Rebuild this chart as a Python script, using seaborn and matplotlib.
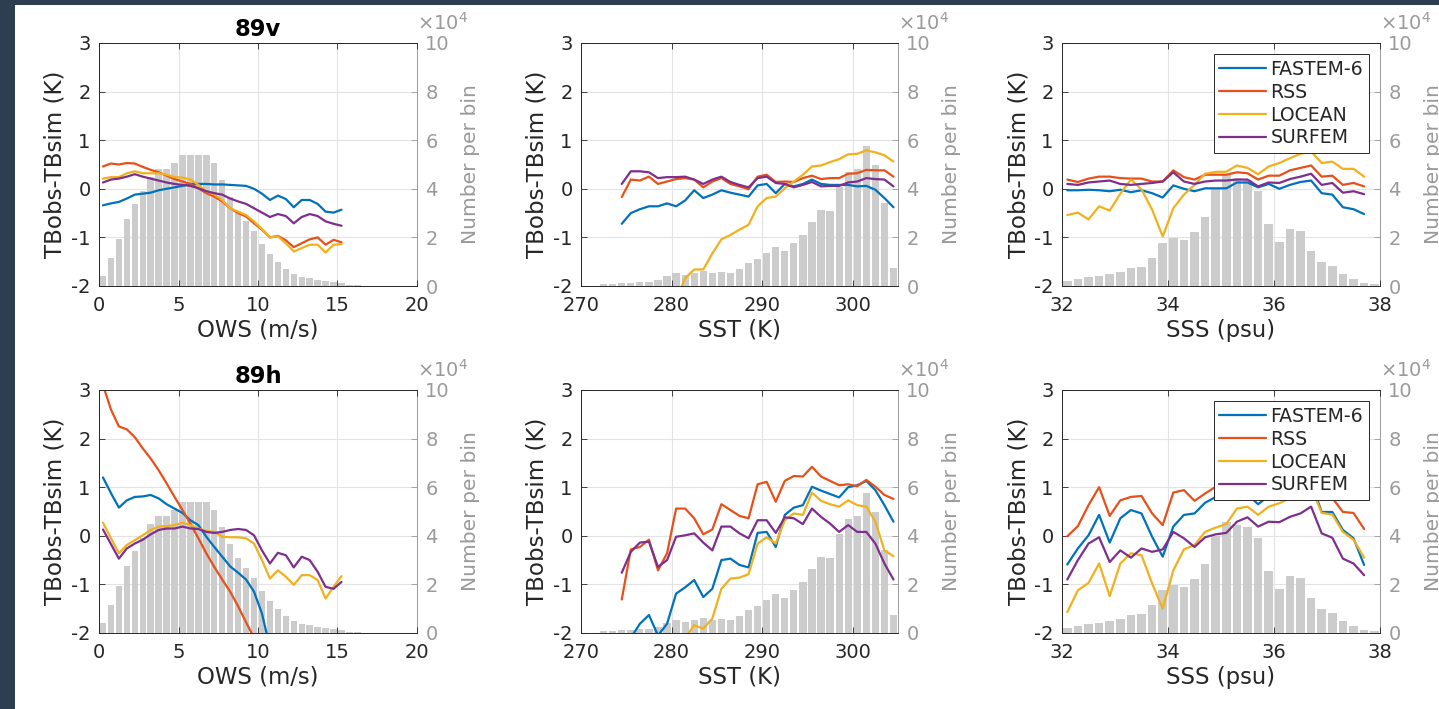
import numpy as np
import pandas as pd
import matplotlib
matplotlib.use("Agg")
import matplotlib.pyplot as plt
from matplotlib.patches import Rectangle
import seaborn as sns

# %% данные
models = ["FASTEM-6", "RSS", "LOCEAN", "SURFEM"]
colors = ["#0072BD", "#E8501A", "#F2B01E", "#7E2F8E"]

# центры бинов (гистограммы) и точки кривых
ows_hist_x = np.arange(0.25, 17.0, 0.5)
ows_hist = [4300, 11500, 19400, 27700, 33900, 39000, 44700, 48000, 48200, 50600,
            54000, 54000, 54000, 54000, 50600, 43500, 36500, 31000, 26700, 22500,
            17300, 13200, 10000, 6800, 5000, 3900, 3300, 2600, 2100, 1500,
            1100, 600, 300, 100]
sst_hist_x = np.arange(272.5, 305.0, 1.0)
sst_hist = [700, 700, 1100, 1100, 1800, 1800, 2500, 4100, 5200, 4500,
            5500, 6300, 5500, 5800, 5500, 6900, 9600, 11000, 13700, 16200,
            14600, 17900, 21000, 26200, 31300, 31000, 40900, 47100, 48100, 57700,
            49900, 34300, 7600]
sss_hist_x = np.round(np.arange(32.1, 38.0, 0.2), 2)
sss_hist = [2100, 2700, 3600, 4000, 5100, 5800, 7300, 8000, 11700, 17600,
            19600, 19100, 22400, 28200, 39800, 45500, 44400, 43700, 38900, 25500,
            18300, 23500, 22800, 14600, 10000, 8400, 4800, 3000, 1100, 700]

ows_x = np.arange(0.25, 15.3, 0.5)
sst_x = np.arange(274.5, 305.0, 1.0)
sss_x = np.round(np.arange(32.1, 37.8, 0.2), 2)

# 89v
ows_89v = {
    "FASTEM-6": [-0.34, -0.30, -0.27, -0.20, -0.12, -0.10, -0.08, -0.03, 0.00, 0.03, 0.06, 0.10, 0.10, 0.10, 0.09, 0.09,
                 0.08, 0.07, 0.06, 0.00, -0.10, -0.23, -0.14, -0.21, -0.38, -0.23, -0.23, -0.31, -0.47, -0.49, -0.43],
    "RSS": [0.46, 0.52, 0.50, 0.53, 0.52, 0.45, 0.39, 0.34, 0.27, 0.20, 0.15, 0.10, 0.01, -0.09, -0.16, -0.26,
            -0.40, -0.50, -0.57, -0.71, -0.84, -1.00, -0.97, -1.06, -1.20, -1.12, -1.04, -1.00, -1.15, -1.05, -1.10],
    "LOCEAN": [0.21, 0.24, 0.24, 0.32, 0.36, 0.32, 0.32, 0.32, 0.29, 0.24, 0.23, 0.19, 0.08, -0.05, -0.12, -0.23,
               -0.40, -0.47, -0.54, -0.67, -0.83, -1.00, -0.98, -1.12, -1.29, -1.22, -1.15, -1.15, -1.31, -1.15, -1.14],
    "SURFEM": [0.13, 0.19, 0.21, 0.25, 0.30, 0.25, 0.21, 0.17, 0.13, 0.10, 0.08, 0.06, 0.01, -0.05, -0.09, -0.12,
               -0.20, -0.26, -0.31, -0.40, -0.49, -0.58, -0.52, -0.56, -0.71, -0.58, -0.52, -0.56, -0.67, -0.72, -0.76],
}
sst_89v = {
    "FASTEM-6": [-0.72, -0.50, -0.42, -0.36, -0.36, -0.30, -0.36, -0.24, -0.03, -0.19, -0.12, -0.03, -0.08, -0.12, -0.16, 0.07,
                 0.10, -0.09, 0.10, 0.05, 0.10, 0.19, 0.10, 0.08, 0.08, 0.08, 0.05, 0.06, -0.02, -0.19, -0.38],
    "RSS": [-0.17, 0.19, 0.17, 0.25, 0.10, 0.15, 0.20, 0.22, 0.19, 0.03, 0.15, 0.22, 0.10, 0.05, -0.01, 0.25,
            0.29, 0.14, 0.15, 0.14, 0.22, 0.27, 0.20, 0.22, 0.22, 0.31, 0.32, 0.39, 0.38, 0.38, 0.25],
    "LOCEAN": [-2.9, -2.8, -2.7, -2.6, -2.5, -2.4, -2.27, -1.84, -1.66, -1.66, -1.33, -1.04, -0.95, -0.84, -0.74, -0.36,
               -0.19, -0.16, 0.01, 0.15, 0.29, 0.46, 0.48, 0.55, 0.61, 0.71, 0.72, 0.79, 0.75, 0.69, 0.56],
    "SURFEM": [0.10, 0.36, 0.36, 0.34, 0.22, 0.24, 0.24, 0.25, 0.19, 0.10, 0.19, 0.25, 0.14, 0.08, 0.03, 0.22,
               0.25, 0.12, 0.10, 0.03, 0.08, 0.14, 0.05, 0.06, 0.06, 0.13, 0.15, 0.22, 0.20, 0.19, 0.05],
}
sss_89v = {
    "FASTEM-6": [-0.03, -0.03, -0.02, -0.03, -0.05, -0.02, -0.07, -0.03, -0.09, -0.18, 0.07, 0.00, -0.05, 0.01, 0.01,
                 0.01, 0.13, 0.13, 0.03, 0.10, 0.00, 0.08, 0.14, 0.17, -0.09, -0.12, -0.38, -0.42, -0.52],
    "RSS": [0.19, 0.14, 0.21, 0.25, 0.25, 0.22, 0.21, 0.21, 0.15, 0.15, 0.38, 0.24, 0.19, 0.29, 0.29,
            0.29, 0.34, 0.32, 0.19, 0.27, 0.27, 0.38, 0.43, 0.48, 0.25, 0.27, 0.08, 0.12, 0.05],
    "LOCEAN": [-0.54, -0.49, -0.63, -0.36, -0.45, -0.10, 0.19, -0.01, -0.43, -0.98, -0.40, -0.12, 0.08, 0.31, 0.35,
               0.35, 0.48, 0.43, 0.30, 0.46, 0.53, 0.63, 0.72, 0.77, 0.53, 0.56, 0.41, 0.41, 0.25],
    "SURFEM": [0.10, 0.08, 0.13, 0.15, 0.17, 0.10, 0.08, 0.10, 0.12, 0.15, 0.34, 0.15, 0.10, 0.15, 0.17,
               0.17, 0.19, 0.19, 0.05, 0.13, 0.12, 0.20, 0.25, 0.31, 0.08, 0.12, -0.08, -0.05, -0.11],
}

# 89h
ows_89h = {
    "FASTEM-6": [1.20, 0.88, 0.58, 0.73, 0.80, 0.81, 0.84, 0.77, 0.65, 0.56, 0.47, 0.32, 0.22, -0.02, -0.23, -0.43,
                 -0.63, -0.76, -0.90, -1.15, -1.60, -2.30],
    "RSS": [3.10, 2.60, 2.25, 2.19, 2.03, 1.80, 1.59, 1.35, 1.08, 0.80, 0.53, 0.25, -0.05, -0.36, -0.64, -0.90,
            -1.15, -1.45, -1.78, -2.10, -2.40],
    "LOCEAN": [0.27, -0.05, -0.36, -0.19, -0.09, 0.01, 0.12, 0.19, 0.20, 0.22, 0.27, 0.22, 0.15, 0.10, 0.08, -0.02,
               -0.03, -0.03, -0.05, -0.16, -0.50, -0.88, -0.71, -0.84, -1.01, -0.81, -0.81, -0.91, -1.29, -1.05, -0.83],
    "SURFEM": [0.13, -0.17, -0.47, -0.26, -0.16, -0.08, 0.03, 0.12, 0.15, 0.15, 0.19, 0.15, 0.14, 0.08, 0.06, 0.08,
               0.12, 0.14, 0.12, 0.01, -0.30, -0.57, -0.35, -0.40, -0.65, -0.43, -0.50, -0.74, -1.05, -1.09, -0.95],
}
sst_89h = {
    "FASTEM-6": [-2.40, -2.10, -1.81, -1.63, -2.05, -1.81, -1.19, -1.06, -0.91, -1.26, -1.09, -0.50, -0.47, -0.60, -0.65, 0.06,
                 0.08, -0.23, 0.43, 0.58, 0.63, 1.01, 0.93, 0.86, 0.79, 1.00, 1.04, 1.13, 0.94, 0.63, 0.29],
    "RSS": [-1.31, -0.28, -0.23, -0.08, -0.71, -0.36, 0.56, 0.56, 0.36, 0.03, 0.13, 0.65, 0.53, 0.41, 0.36, 1.06,
            1.11, 0.70, 1.13, 1.23, 1.22, 1.42, 1.22, 1.13, 1.04, 1.06, 1.02, 1.15, 1.01, 0.84, 0.76],
    "LOCEAN": [-3.0, -2.9, -2.8, -2.7, -2.6, -2.4, -2.2, -2.1, -1.84, -1.91, -1.70, -1.09, -0.88, -0.86, -0.79, -0.16,
               -0.03, -0.16, 0.32, 0.46, 0.43, 0.89, 0.72, 0.65, 0.60, 0.73, 0.63, 0.60, 0.29, -0.30, -0.42],
    "SURFEM": [-0.76, -0.33, -0.14, -0.12, -0.64, -0.50, -0.02, 0.01, 0.05, -0.14, -0.30, 0.19, 0.19, 0.05, -0.05, 0.32,
               0.32, 0.06, 0.38, 0.36, 0.24, 0.56, 0.39, 0.25, 0.08, 0.22, 0.08, 0.08, -0.16, -0.57, -0.90],
}
sss_89h = {
    "FASTEM-6": [-0.59, -0.26, 0.01, 0.43, -0.14, 0.36, 0.53, 0.46, -0.02, -0.43, 0.19, 0.43, 0.46, 0.68, 0.80,
                 0.90, 0.95, 0.85, 0.65, 0.82, 0.90, 1.00, 1.05, 1.10, 0.49, 0.49, 0.12, -0.05, -0.60],
    "RSS": [-0.01, 0.20, 0.63, 1.00, 0.41, 0.73, 0.80, 0.82, 0.46, 0.22, 0.89, 0.94, 0.72, 0.87, 1.01,
            1.10, 1.20, 1.05, 1.15, 1.25, 1.30, 1.35, 1.40, 1.50, 1.10, 0.78, 0.49, 0.47, 0.14],
    "LOCEAN": [-1.57, -1.12, -0.97, -0.57, -1.24, -0.57, -0.36, -0.40, -0.98, -1.50, -0.71, -0.28, -0.19, 0.08, 0.17,
               0.24, 0.56, 0.60, 0.43, 0.60, 0.67, 0.77, 0.90, 1.00, 0.47, 0.44, 0.08, -0.08, -0.45],
    "SURFEM": [-0.90, -0.50, -0.16, -0.03, -0.54, -0.30, -0.45, -0.26, -0.33, -0.28, 0.08, -0.05, -0.23, -0.03, 0.03,
               0.06, 0.29, 0.38, 0.19, 0.29, 0.28, 0.39, 0.46, 0.60, 0.05, -0.04, -0.47, -0.57, -0.81],
}

# %% оформление
sns.set_style("ticks")
plt.rcParams["font.family"] = ["DejaVu Sans"]
plt.rcParams["axes.unicode_minus"] = False

W, H = 1439, 709
dark = "#262626"
gray = "#9a9a9a"
bar_color = "#cccccc"
palette = dict(zip(models, colors))

fig = plt.figure(figsize=(W / 100, H / 100), dpi=100, facecolor="#2c3e50")
fig.patches.append(Rectangle((15 / W, 0), 1, 1 - 5 / H, transform=fig.transFigure,
                             facecolor="white", edgecolor="none", zorder=-10))


def rect(l, t, r, b):
    return [l / W, 1 - b / H, (r - l) / W, (b - t) / H]


cols = [(99, 417), (581, 898), (1062, 1380)]
rows = [(43, 286), (390, 633)]

panels = [
    # (ряд, колонка, x кривых, кривые, x гистограммы, гистограмма, ширина бина, xlim, xticks, xlabel)
    (0, 0, ows_x, ows_89v, ows_hist_x, ows_hist, 0.5, (0, 20), [0, 5, 10, 15, 20], "OWS (m/s)"),
    (0, 1, sst_x, sst_89v, sst_hist_x, sst_hist, 1.0, (270, 305), [270, 280, 290, 300], "SST (K)"),
    (0, 2, sss_x, sss_89v, sss_hist_x, sss_hist, 0.2, (32, 38), [32, 34, 36, 38], "SSS (psu)"),
    (1, 0, ows_x, ows_89h, ows_hist_x, ows_hist, 0.5, (0, 20), [0, 5, 10, 15, 20], "OWS (m/s)"),
    (1, 1, sst_x, sst_89h, sst_hist_x, sst_hist, 1.0, (270, 305), [270, 280, 290, 300], "SST (K)"),
    (1, 2, sss_x, sss_89h, sss_hist_x, sss_hist, 0.2, (32, 38), [32, 34, 36, 38], "SSS (psu)"),
]
titles = {(0, 0): "89v", (1, 0): "89h"}

for r, c, lx, curves, hx, hv, bw, xlim, xticks, xlabel in panels:
    box = rect(cols[c][0], rows[r][0], cols[c][1], rows[r][1])

    # гистограмма (правая ось)
    ax_h = fig.add_axes(box)
    df_h = pd.DataFrame({"x": hx, "n": hv})
    edges = [float(v) for v in np.append(np.asarray(hx) - bw / 2, hx[-1] + bw / 2)]
    sns.histplot(data=df_h, x="x", weights="n", bins=edges, shrink=0.8, color=bar_color,
                 edgecolor="none", linewidth=0, alpha=1, ax=ax_h)
    ax_h.set_xlim(*xlim)
    ax_h.set_ylim(0, 100000)
    ax_h.set_xticks(xticks)
    ax_h.set_xticklabels([])
    ax_h.set_yticks([0, 20000, 40000, 60000, 80000, 100000])
    ax_h.set_yticklabels(["0", "2", "4", "6", "8", "10"])
    ax_h.yaxis.tick_right()
    ax_h.yaxis.set_label_position("right")
    ax_h.set_xlabel("")
    ax_h.set_ylabel("Number per bin", color=gray, fontsize=14.6, labelpad=8)
    ax_h.tick_params(axis="y", colors=gray, labelsize=14, direction="in", length=4, width=0.6, pad=6)
    ax_h.tick_params(axis="x", length=0)
    ax_h.grid(True, color="#e3e3e3", linewidth=0.8)
    ax_h.set_axisbelow(True)
    for s in ["left", "top", "bottom"]:
        ax_h.spines[s].set_visible(False)
    ax_h.spines["right"].set_color(gray)
    ax_h.spines["right"].set_linewidth(0.7)
    ax_h.text(1.0, 1.055, r"$\times10^{4}$", transform=ax_h.transAxes, ha="left", va="baseline",
              color=gray, fontsize=14)

    # кривые (левая ось)
    ax = fig.add_axes(box)
    ax.patch.set_visible(False)
    df = pd.concat([pd.DataFrame({"x": lx[:len(v)], "y": v, "model": m}) for m, v in curves.items()])
    sns.lineplot(data=df, x="x", y="y", hue="model", hue_order=models, palette=palette,
                 estimator=None, linewidth=1.6, legend=(c == 2), ax=ax)
    ax.set_xlim(*xlim)
    ax.set_ylim(-2, 3)
    ax.set_xticks(xticks)
    ax.set_yticks([-2, -1, 0, 1, 2, 3])
    ax.set_xlabel(xlabel, fontsize=16.4, color=dark, labelpad=3)
    ax.set_ylabel("TBobs-TBsim (K)", fontsize=16.6, color=dark, labelpad=3)
    ax.tick_params(axis="both", colors=dark, labelsize=14, direction="in", length=4, width=0.6)
    ax.tick_params(axis="x", pad=7, top=True)
    ax.tick_params(axis="y", pad=6)
    ax.spines["right"].set_visible(False)
    for s in ["left", "top", "bottom"]:
        ax.spines[s].set_color(dark)
        ax.spines[s].set_linewidth(0.7)
    if (r, c) in titles:
        ax.set_title(titles[(r, c)], fontsize=16.3, fontweight="bold", color="black", pad=5)
    if c == 2:
        h, l = ax.get_legend_handles_labels()
        leg = ax.legend(h, l, loc="upper right", fontsize=13.6, frameon=True, fancybox=False,
                        edgecolor=dark, framealpha=1, handlelength=2.5, handletextpad=0.2,
                        labelspacing=0.2, borderpad=0.3, borderaxespad=0.6)
        leg.get_frame().set_linewidth(0.7)
        for line in leg.get_lines():
            line.set_linewidth(1.6)

fig.savefig("out.png", dpi=100, facecolor=fig.get_facecolor())
